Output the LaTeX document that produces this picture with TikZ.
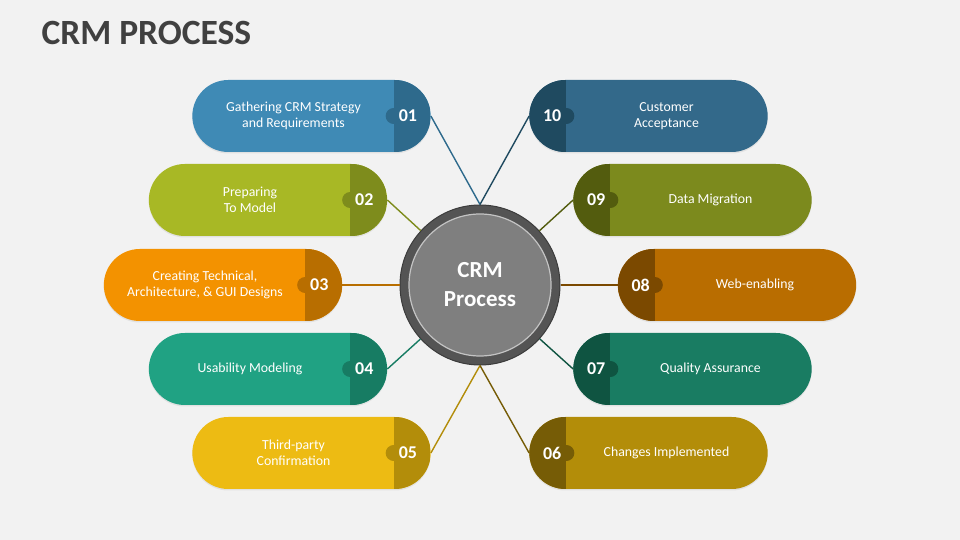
\documentclass[tikz,border=0pt]{standalone}
\usepackage{fontspec}
\setmainfont{Carlito}
\usetikzlibrary{shapes.misc,positioning,calc,shadows}

\definecolor{bg}{HTML}{F2F2F2}
\definecolor{titlegray}{HTML}{404040}
\definecolor{ring}{HTML}{545454}
\definecolor{ringedge}{HTML}{3C3C3C}
\definecolor{core}{HTML}{7F7F7F}
\definecolor{coreedge}{HTML}{C4C4C4}
% step colours: main / cap
\definecolor{mA}{HTML}{3F8AB5}\definecolor{cA}{HTML}{2E6A8C}
\definecolor{mB}{HTML}{A8B825}\definecolor{cB}{HTML}{7E8C1C}
\definecolor{mC}{HTML}{F39200}\definecolor{cC}{HTML}{B86E00}
\definecolor{mD}{HTML}{20A283}\definecolor{cD}{HTML}{177C63}
\definecolor{mE}{HTML}{EDBB13}\definecolor{cE}{HTML}{B38D0A}
\definecolor{mF}{HTML}{B38D09}\definecolor{cF}{HTML}{765C06}
\definecolor{mG}{HTML}{197C62}\definecolor{cG}{HTML}{0F5441}
\definecolor{mH}{HTML}{B96D00}\definecolor{cH}{HTML}{7B4900}
\definecolor{mI}{HTML}{7C8A1D}\definecolor{cI}{HTML}{535C0E}
\definecolor{mJ}{HTML}{33698A}\definecolor{cJ}{HTML}{1F4A60}

\begin{document}
\begin{tikzpicture}[x=1pt,y=1pt,
    lpill/.style 2 args={rounded rectangle, minimum width=245pt, minimum height=72pt,
      fill=#1, drop shadow={opacity=0.15,shadow xshift=0pt,shadow yshift=-1.5pt},
      path picture={
        \fill[#2] ([xshift=-37pt]path picture bounding box.north east) rectangle (path picture bounding box.south east);
        \fill[#2] ([xshift=-37pt]path picture bounding box.east) circle (8pt);}},
    rpill/.style 2 args={rounded rectangle, minimum width=245pt, minimum height=72pt,
      fill=#1, drop shadow={opacity=0.15,shadow xshift=0pt,shadow yshift=-1.5pt},
      path picture={
        \fill[#2] (path picture bounding box.north west) rectangle ([xshift=37pt]path picture bounding box.south west);
        \fill[#2] ([xshift=37pt]path picture bounding box.west) circle (8pt);}},
    lbl/.style={text=white, align=center, font=\fontsize{13.8}{16.5}\selectfont},
    num/.style={text=white, font=\bfseries\fontsize{18}{18}\selectfont},
    link/.style={line width=1.4pt}]

  \fill[bg] (0,0) rectangle (960,540);
  \useasboundingbox (0,0) rectangle (960,540);

  \node[anchor=base west, text=titlegray, font=\bfseries\fontsize{35.5}{35.5}\selectfont] (title) at (38,495) {CRM PROCESS};

  % hub
  \node[circle, minimum size=160pt, fill=ring, draw=ringedge, line width=1pt] (crm) at (480,255) {};
  \node[circle, minimum size=142pt, fill=core, draw=coreedge, line width=1.2pt, text=white,
        align=center, font=\bfseries\fontsize{23}{29}\selectfont] (core) at (crm) {CRM\\Process};

  % left steps
  \node[lpill={mA}{cA}] (p1) at (311.5,424) {};
  \node[lpill={mB}{cB}] (p2) at (268,340) {};
  \node[lpill={mC}{cC}] (p3) at (223,255) {};
  \node[lpill={mD}{cD}] (p4) at (268,171) {};
  \node[lpill={mE}{cE}] (p5) at (311.5,87) {};
  % right steps
  \node[rpill={mJ}{cJ}] (p10) at (648.5,424) {};
  \node[rpill={mI}{cI}] (p9) at (692.5,340) {};
  \node[rpill={mH}{cH}] (p8) at (737,255) {};
  \node[rpill={mG}{cG}] (p7) at (692.5,171) {};
  \node[rpill={mF}{cF}] (p6) at (648.5,87) {};

  \node[lbl] (t1) at ($(p1.center)+(-18,0)$) {Gathering CRM Strategy\\and Requirements};
  \node[lbl] (t2) at ($(p2.center)+(-18,0)$) {Preparing\\To Model};
  \node[lbl] (t3) at ($(p3.center)+(-18,0)$) {Creating Technical,\\Architecture, \& GUI Designs};
  \node[lbl] (t4) at ($(p4.center)+(-18,0)$) {Usability Modeling};
  \node[lbl] (t5) at ($(p5.center)+(-18,0)$) {Third-party\\Confirmation};
  \node[lbl] (t6) at ($(p6.center)+(18,0)$) {Changes Implemented};
  \node[lbl] (t7) at ($(p7.center)+(18,0)$) {Quality Assurance};
  \node[lbl] (t8) at ($(p8.center)+(18,0)$) {Web-enabling};
  \node[lbl] (t9) at ($(p9.center)+(18,0)$) {Data Migration};
  \node[lbl] (t10) at ($(p10.center)+(18,0)$) {Customer\\Acceptance};

  \foreach \i in {1,...,5}
    \node[num] (n\i) at ($(p\i.east)+(-23,0)$) {0\i};
  \foreach \i/\t in {6/06,7/07,8/08,9/09,10/10}
    \node[num] (n\i) at ($(p\i.west)+(23,0)$) {\t};

  % connectors
  \draw[link, cA] (p1.east) -- (crm.north);
  \draw[link, cB] (p2.east) -- (crm);
  \draw[link, cC] (p3.east) -- (crm);
  \draw[link, cD] (p4.east) -- (crm);
  \draw[link, cE] (p5.east) -- (crm.south);
  \draw[link, cF] (p6.west) -- (crm.south);
  \draw[link, cG] (p7.west) -- (crm);
  \draw[link, cH] (p8.west) -- (crm);
  \draw[link, cI] (p9.west) -- (crm);
  \draw[link, cJ] (p10.west) -- (crm.north);
\end{tikzpicture}
\end{document}
